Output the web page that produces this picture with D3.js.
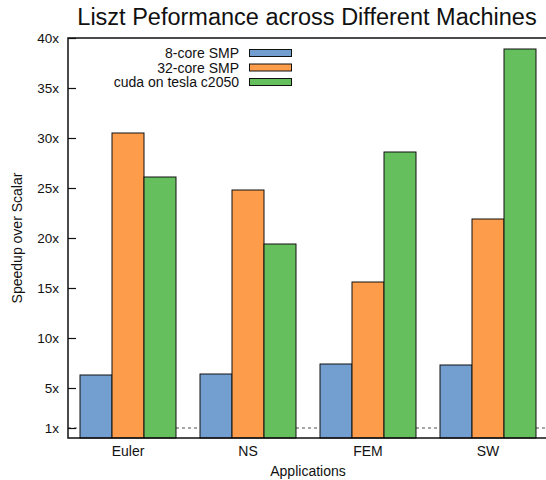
<!DOCTYPE html>
<html>
<head>
<meta charset="utf-8">
<script src="https://cdn.jsdelivr.net/npm/d3@7"></script>
<style>
  body { margin: 0; background: #fff; }
  text { font-family: "Liberation Sans", Arial, sans-serif; fill: #111; }
</style>
</head>
<body>
<svg width="546" height="480"></svg>
<script>
const apps = ['Euler', 'NS', 'FEM', 'SW'];
const machines = ['8-core SMP', '32-core SMP', 'cuda on tesla c2050'];
const smp8 = [6.3, 6.4, 7.4, 7.3];
const smp32 = [30.5, 24.8, 15.6, 21.9];
const cuda = [26.1, 19.4, 28.6, 38.9];
const yTicks = [1, 5, 10, 15, 20, 25, 30, 35, 40];
const colors = ['#729fcf', '#fd9c4a', '#66bf5d'];

const series = [smp8, smp32, cuda];
const svg = d3.select('svg');

let x = d3.scaleBand().domain(apps).range([68, 548]).paddingInner(0.2).paddingOuter(0.1);
let xs = d3.scaleBand().domain(machines).range([0, x.bandwidth()]);
let y = d3.scaleLinear().domain([0, 40]).range([438, 38]);

// dashed 1x reference line
svg.append('line')
  .attr('x1', 68).attr('x2', 546)
  .attr('y1', y(1)).attr('y2', y(1))
  .attr('stroke', '#222').attr('stroke-width', 0.8)
  .attr('stroke-dasharray', '3,3');

// bars
apps.forEach((app, i) => {
  series.forEach((s, j) => {
    svg.append('rect')
      .attr('x', x(app) + xs(machines[j]))
      .attr('y', y(s[i]))
      .attr('width', xs.bandwidth())
      .attr('height', y(0) - y(s[i]))
      .attr('fill', colors[j])
      .attr('stroke', '#111')
      .attr('stroke-width', 1);
  });
});

// frame
svg.append('path')
  .attr('d', `M546,${y(40)}H68V${y(0)}H546`)
  .attr('fill', 'none').attr('stroke', '#111').attr('stroke-width', 1.5);

// y axis
let yAxis = d3.axisRight(y).tickValues(yTicks).tickSize(8).tickFormat(d => d + 'x');
let gy = svg.append('g').attr('transform', 'translate(68,0)').call(yAxis);
gy.select('.domain').remove();
gy.selectAll('line').attr('stroke', '#111').attr('stroke-width', 1.2);
gy.selectAll('text').attr('x', -9).attr('text-anchor', 'end').style('font-size', '13.5px');

// x axis labels
let gx = svg.append('g').attr('transform', `translate(0,${y(0)})`)
  .call(d3.axisBottom(x).tickSize(0).tickPadding(8));
gx.select('.domain').remove();
gx.selectAll('text').style('font-size', '14px');

// title and axis labels
svg.append('text').attr('x', 307).attr('y', 25).attr('text-anchor', 'middle')
  .style('font-size', '23.5px').text('Liszt Peformance across Different Machines');
svg.append('text').attr('x', 308).attr('y', 476).attr('text-anchor', 'middle')
  .style('font-size', '14px').text('Applications');
svg.append('text').attr('transform', 'translate(22,238) rotate(-90)').attr('text-anchor', 'middle')
  .style('font-size', '14px').text('Speedup over Scalar');

// legend
let legend = svg.append('g');
machines.forEach((m, j) => {
  let ly = 53 + j * 14.5;
  legend.append('text').attr('x', 239).attr('y', ly + 5).attr('text-anchor', 'end')
    .style('font-size', '14px').text(m);
  legend.append('rect').attr('x', 249.5).attr('y', ly - 3.5).attr('width', 42).attr('height', 7)
    .attr('fill', colors[j]).attr('stroke', '#111').attr('stroke-width', 1);
});
</script>
</body>
</html>
